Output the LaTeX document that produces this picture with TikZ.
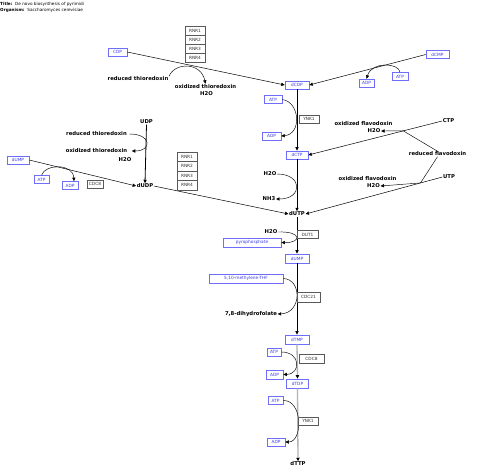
\documentclass[tikz,border=0pt]{standalone}
\usepackage{fontspec}
\setmainfont{DejaVu Sans}
\usetikzlibrary{arrows.meta,calc}
\definecolor{mblue}{RGB}{60,60,235}
\definecolor{mborder}{RGB}{110,110,250}
\tikzset{
 met/.style={draw=mborder, line width=0.6pt, text=mblue, fill=white, font=\fontsize{4.3}{5}\selectfont, inner sep=0pt, minimum height=8pt},
 enz/.style={draw=black!65, line width=0.5pt, fill=white, text=black!80, font=\fontsize{4.3}{5}\selectfont, inner sep=0pt, minimum height=8pt, minimum width=20pt},
 lab/.style={font=\fontsize{5.3}{6}\selectfont\bfseries, inner sep=0.5pt},
 tip/.style={-{Triangle[length=3.5pt,width=3.2pt]}},
 rxn/.style={tip, line width=0.5pt},
 mainrxn/.style={tip, line width=0.8pt},
 grayrxn/.style={-{Triangle[length=3.5pt,width=3.2pt,color=black]}, draw=black!30, line width=1.3pt},
 side/.style={tip, line width=0.45pt},
}
\begin{document}
\begin{tikzpicture}[x=1pt,y=-1pt]
\fill[white] (0,0) rectangle (480,475);
\useasboundingbox (0,0) rectangle (480,475);
% title
\node[anchor=west, font=\fontsize{4.2}{5}\selectfont, inner sep=0pt] (title) at (0,4) {\textbf{Title:}\ \ De novo biosynthesis of pyrimidi};
\node[anchor=west, font=\fontsize{4.2}{5}\selectfont, inner sep=0pt] (org) at (0,10.5) {\textbf{Organism:}\ \ Saccharomyces cerevisiae};

% metabolites (boxes)
\node[met, minimum width=19pt] (cdp) at (117.5,52) {CDP};
\node[met, minimum width=24pt] (dcdp) at (297,85) {dCDP};
\node[met, minimum width=23pt] (dcmp) at (437.5,54.5) {dCMP};
\node[met, minimum width=16pt] (atp1) at (400,76.5) {ATP};
\node[met, minimum width=15pt] (adp1) at (366.5,83) {ADP};
\node[met, minimum width=18pt] (atp2) at (273,99.5) {ATP};
\node[met, minimum width=19pt] (adp2) at (271.5,136) {ADP};
\node[met, minimum width=22pt] (dctp) at (297,155) {dCTP};
\node[met, minimum width=22pt] (dump1) at (18,160) {dUMP};
\node[met, minimum width=15pt] (atp3) at (41.5,179.5) {ATP};
\node[met, minimum width=16pt] (adp3) at (70,185.5) {ADP};
\node[met, minimum width=58pt, minimum height=9pt] (pyro) at (252,242.5) {pyrophosphate};
\node[met, minimum width=24pt, minimum height=9pt] (dump2) at (297,258.5) {dUMP};
\node[met, minimum width=74pt, minimum height=9pt] (thf) at (246,278.5) {5,10-methylene-THF};
\node[met, minimum width=24pt, minimum height=9pt] (dtmp) at (297,339.5) {dTMP};
\node[met, minimum width=14pt] (atp4) at (274,352) {ATP};
\node[met, minimum width=17pt, minimum height=9pt] (adp4) at (274.5,374.5) {ADP};
\node[met, minimum width=22pt, minimum height=9pt] (dtdp) at (297.5,383.5) {dTDP};
\node[met, minimum width=15pt, minimum height=7.5pt] (atp5) at (275.5,400.5) {ATP};
\node[met, minimum width=18pt] (adp5) at (276,442) {ADP};

% bold labels
\node[lab, anchor=east] (rt1) at (169,79) {reduced thioredoxin};
\node[lab] (ot1) at (205.5,86.5) {oxidized thioredoxin};
\node[lab] (h1) at (206.5,94) {H2O};
\node[lab] (ot3) at (363.5,124) {oxidized flavodoxin};
\node[lab] (h3) at (374,131) {H2O};
\node[lab] (ctp) at (448.5,121) {CTP};
\node[lab] (rf) at (437.5,154) {reduced flavodoxin};
\node[lab] (ot4) at (367.5,179) {oxidized flavodoxin};
\node[lab] (h4) at (373.5,186) {H2O};
\node[lab] (utp) at (449,177) {UTP};
\node[lab] (udp) at (146.5,122) {UDP};
\node[lab] (rt2) at (96.5,134) {reduced thioredoxin};
\node[lab] (ot2) at (96.5,151) {oxidized thioredoxin};
\node[lab] (h2) at (125,159.5) {H2O};
\node[lab] (dudp) at (145,186) {dUDP};
\node[lab] (h5) at (270,174) {H2O};
\node[lab] (nh3) at (269,199) {NH3};
\node[lab] (dutp) at (297,214) {dUTP};
\node[lab] (h6) at (271,232) {H2O};
\node[lab] (dhf) at (251,314) {7,8-dihydrofolate};
\node[lab] (dttp) at (298,464) {dTTP};

% junction points on the flavodoxin reactions
\coordinate (j1) at ($(ctp.west)!0.29!(dctp.east)$);
\coordinate (j2) at ($(utp.west)!0.16!(dutp.east)$);

% reactions
\draw[rxn] (cdp.east) -- (dcdp.west);
\draw[side] (rt1.north east) .. controls (175,62) and (201,62) .. (ot1.north);
\draw[rxn] (dcmp.west) -- (dcdp.east);
\draw[side] (atp1.north) .. controls (399,63) and (372,61) .. (adp1.north);
\draw[mainrxn] (dcdp.south) -- (dctp.north);
\draw[side] (atp2.east) .. controls (300,102) and (302,134) .. (adp2.east);
\draw[rxn] (ctp.west) -- (dctp.east);
\draw[side] (rf.north) -- (j1) -- (h3.east);
\draw[rxn] (utp.west) -- (dutp.east);
\draw[side] (rf.south) -- (j2) -- (h4.east);
\draw[mainrxn] (dctp.south) -- (dutp.north);
\draw[side] (h5.east) .. controls (303,174) and (303,199) .. (nh3.east);
\draw[mainrxn] (udp.south) -- (dudp.north);
\draw[side] ([xshift=2pt]rt2.east) .. controls (152,134) and (152,151) .. ([xshift=4pt]ot2.east);
\draw[rxn] (dump1.east) -- (dudp.west);
\draw[side] (atp3.north) .. controls (45,164) and (73,163) .. ([xshift=4pt]adp3.north);
\draw[rxn] (dudp.east) -- (dutp.west);
\draw[mainrxn] (dutp.south) -- (dump2.north);
\draw[side] (h6.east) .. controls (302,231) and (302,243) .. (pyro.east);
\draw[mainrxn] (dump2.south) -- (dtmp.north);
\draw[side] (thf.east) .. controls (302,279) and (302,313) .. (dhf.east);
\draw[grayrxn] (dtmp.south) -- (dtdp.north);
\draw[side] (atp4.east) .. controls (301,352) and (301,374) .. (adp4.east);
\draw[grayrxn] (dtdp.south) -- (dttp.north);
\draw[side] (atp5.east) .. controls (303,400) and (303,442) .. (adp5.east);

% enzymes
\node[enz, minimum height=9pt] (rnr1a) at (195,30.5) {RNR1};
\node[enz, minimum height=9pt] (rnr2a) at (195,39.5) {RNR2};
\node[enz, minimum height=9pt] (rnr3a) at (195,48.5) {RNR3};
\node[enz, minimum height=9pt] (rnr4a) at (195,57.5) {RNR4};
\node[enz] (ynk1a) at (309,119) {YNK1};
\node[enz, minimum height=9.5pt] (rnr1b) at (187,156.75) {RNR1};
\node[enz, minimum height=9.5pt] (rnr2b) at (187,166.25) {RNR2};
\node[enz, minimum height=9.5pt] (rnr3b) at (187,175.75) {RNR3};
\node[enz, minimum height=9.5pt] (rnr4b) at (187,185.25) {RNR4};
\node[enz, minimum width=16pt] (cdc8a) at (95,184) {CDC8};
\node[enz, minimum width=21pt] (dut1) at (307.5,234.5) {DUT1};
\node[enz, minimum width=23pt, minimum height=10pt] (cdc21) at (308.5,297) {CDC21};
\node[enz, minimum width=25pt, minimum height=9pt] (cdc8b) at (311.5,358.5) {CDC8};
\node[enz] (ynk1b) at (308,421) {YNK1};
\end{tikzpicture}
\end{document}
